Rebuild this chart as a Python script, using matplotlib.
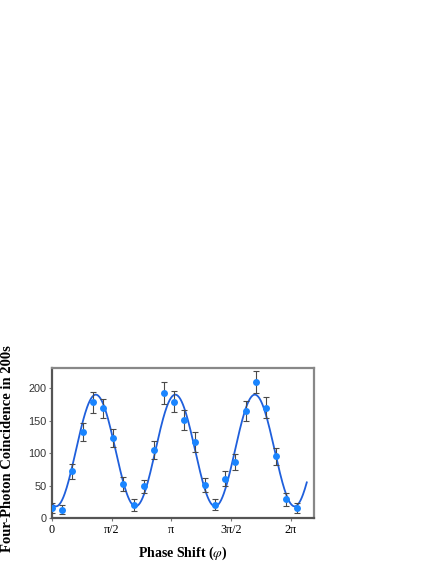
import numpy as np
import matplotlib
matplotlib.use('Agg')
import matplotlib.pyplot as plt

# phase shift (rad), four-photon counts and their error bars
phase = [0.0, 0.268, 0.537, 0.805, 1.073, 1.342, 1.610, 1.878, 2.147, 2.415,
         2.683, 2.952, 3.220, 3.488, 3.757, 4.025, 4.293, 4.562, 4.830, 5.098,
         5.367, 5.635, 5.903, 6.172, 6.440]
counts = [16, 13, 72, 133, 178, 169, 124, 53, 20, 49,
          105, 192, 179, 151, 117, 51, 21, 61, 87, 165,
          209, 170, 95, 29, 16]
errors = [8, 7, 12, 14, 16, 15, 14, 11, 9, 10,
          14, 17, 16, 16, 15, 11, 8, 11, 12, 15,
          17, 16, 13, 10, 8]

xtick_pos = [0, np.pi / 2, np.pi, 3 * np.pi / 2, 2 * np.pi]
xtick_lab = ['0', 'π/2', 'π', '3π/2', '2π']
ytick_pos = [0, 50, 100, 150, 200]

plt.rcParams['mathtext.fontset'] = 'stix'

# sinusoidal fit a + b cos(3x) + c sin(3x)
x = np.array(phase)
y = np.array(counts)
A = np.column_stack([np.ones_like(x), np.cos(3 * x), np.sin(3 * x)])
coef, *_ = np.linalg.lstsq(A, y, rcond=None)
xf = np.linspace(0, 6.71, 400)
yf = coef[0] + coef[1] * np.cos(3 * xf) + coef[2] * np.sin(3 * xf)

W, H = 436, 564
fig = plt.figure(figsize=(W / 100, H / 100), dpi=100)
ax = fig.add_axes([52 / W, (H - 518.3) / H, (314 - 52) / W, (518.3 - 368) / H])

ax.plot(xf, yf, color='#1f5fdc', lw=1.3, zorder=2)
ax.errorbar(phase, counts, yerr=errors, fmt='none', ecolor='#4a4a4a',
            elinewidth=0.8, capsize=2, capthick=0.8, zorder=3)
ax.plot(phase, counts, 'o', color='#1a85ff', ms=5, mec='none', zorder=4)

ax.set_xlim(0, 6.9)
ax.set_ylim(0, 231)
ax.set_xticks(xtick_pos)
ax.set_xticklabels(xtick_lab, family='Liberation Serif', fontsize=8.7)
ax.set_yticks(ytick_pos)
ax.set_yticklabels([str(v) for v in ytick_pos], family='Liberation Sans',
                   fontsize=7.8, color='#333333')
ax.tick_params(length=2, width=0.8, color='#777777', pad=2)

for s in ['left', 'bottom']:
    ax.spines[s].set_color('#555555')
    ax.spines[s].set_linewidth(1.6)
for s in ['top', 'right']:
    ax.spines[s].set_color('#888888')
    ax.spines[s].set_linewidth(1.6)

fig.text(183 / W, 1 - 553 / H, r'Phase Shift ($\varphi$)', family='Liberation Serif',
         weight='bold', fontsize=10, ha='center', va='center')
fig.text(8 / W, 1 - 449 / H, 'Four-Photon Coincidence in 200s', family='Liberation Serif',
         weight='bold', fontsize=10.5, rotation=90, ha='center', va='center')

fig.savefig('out.png', dpi=100)
